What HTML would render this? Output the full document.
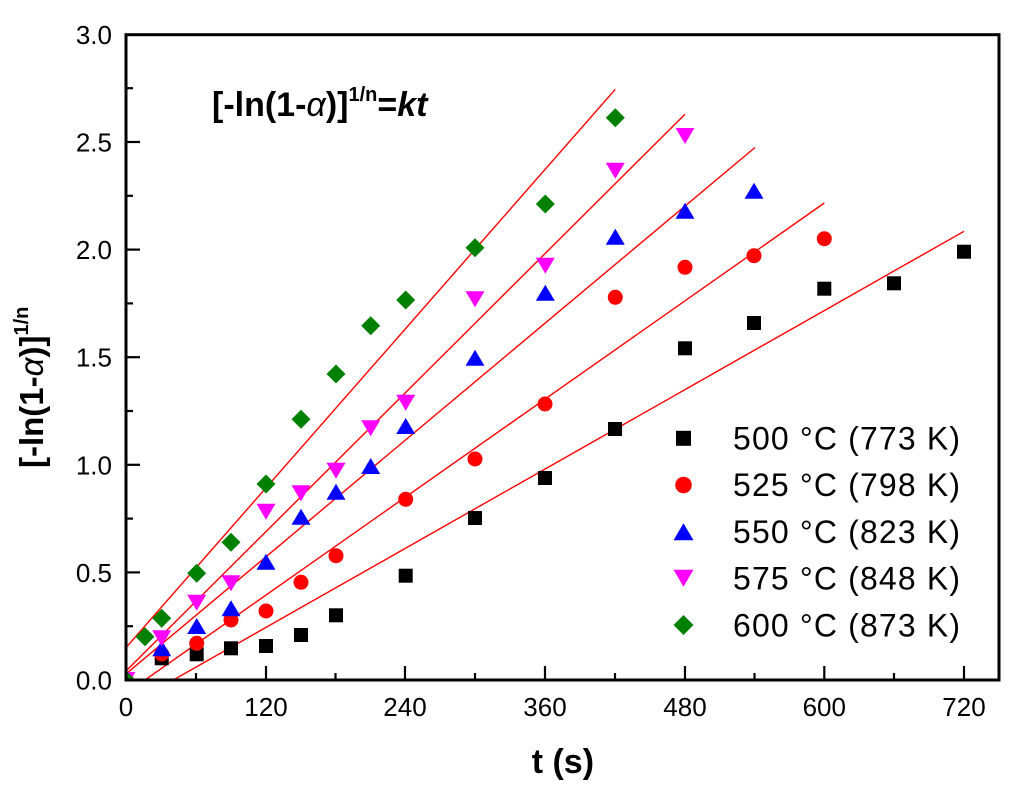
<!DOCTYPE html>
<html>
<head>
<meta charset="utf-8">
<style>
  html, body { margin: 0; padding: 0; background: #fff; }
  svg { display: block; }
  text { font-family: "Liberation Sans", Arial, sans-serif; }
</style>
</head>
<body>
<svg width="1021" height="803" viewBox="0 0 1021 803" xmlns="http://www.w3.org/2000/svg">
  <defs>
    <clipPath id="plot">
      <rect x="126" y="34.7" width="873" height="645.3"/>
    </clipPath>
  </defs>
  <rect width="1021" height="803" fill="#fff"/>

  <!-- fit lines -->
  <g clip-path="url(#plot)" stroke="#ff0000" stroke-width="1.4" fill="none">
    <line x1="126" y1="647.6" x2="615.3" y2="89.3"/>
    <line x1="126" y1="671" x2="685" y2="114.2"/>
    <line x1="126" y1="673.9" x2="755" y2="147.5"/>
    <line x1="145" y1="680" x2="824.3" y2="203"/>
    <line x1="173.3" y1="680" x2="964" y2="231.3"/>
  </g>

  <!-- markers -->
  <g clip-path="url(#plot)">
    <g fill="#000">
      <rect x="119" y="673" width="14" height="14"/>
      <rect x="154.7" y="651.3" width="14" height="14"/>
      <rect x="189.7" y="647.3" width="14" height="14"/>
      <rect x="224" y="641.3" width="14" height="14"/>
      <rect x="259" y="639" width="14" height="14"/>
      <rect x="294" y="628" width="14" height="14"/>
      <rect x="329" y="608.3" width="14" height="14"/>
      <rect x="398.7" y="568.7" width="14" height="14"/>
      <rect x="468" y="511" width="14" height="14"/>
      <rect x="538" y="471" width="14" height="14"/>
      <rect x="608" y="422" width="14" height="14"/>
      <rect x="678" y="341.3" width="14" height="14"/>
      <rect x="747" y="316" width="14" height="14"/>
      <rect x="817.3" y="281.7" width="14" height="14"/>
      <rect x="887" y="276.3" width="14" height="14"/>
      <rect x="957" y="244.7" width="14" height="14"/>
    </g>
    <g fill="#ff0000">
      <circle cx="126" cy="680" r="7.5"/>
      <circle cx="161.7" cy="654" r="7.5"/>
      <circle cx="196.7" cy="643.3" r="7.5"/>
      <circle cx="231" cy="620" r="7.5"/>
      <circle cx="266" cy="611" r="7.5"/>
      <circle cx="301" cy="582.3" r="7.5"/>
      <circle cx="336" cy="555.7" r="7.5"/>
      <circle cx="405.7" cy="499.3" r="7.5"/>
      <circle cx="475" cy="459" r="7.5"/>
      <circle cx="545" cy="404" r="7.5"/>
      <circle cx="615.3" cy="297.3" r="7.5"/>
      <circle cx="685" cy="267.3" r="7.5"/>
      <circle cx="754" cy="255.7" r="7.5"/>
      <circle cx="824.3" cy="238.7" r="7.5"/>
    </g>
    <g fill="#0000ff">
      <polygon points="126,672 116.5,688 135.5,688"/>
      <polygon points="161.7,640.3 152.2,656.3 171.2,656.3"/>
      <polygon points="196.7,618 187.2,634 206.2,634"/>
      <polygon points="231,600.3 221.5,616.3 240.5,616.3"/>
      <polygon points="266,553.7 256.5,569.7 275.5,569.7"/>
      <polygon points="301,508.7 291.5,524.7 310.5,524.7"/>
      <polygon points="336,483.7 326.5,499.7 345.5,499.7"/>
      <polygon points="370.7,458 361.2,474 380.2,474"/>
      <polygon points="405.7,418 396.2,434 415.2,434"/>
      <polygon points="475,349.7 465.5,365.7 484.5,365.7"/>
      <polygon points="545.3,284.7 535.8,300.7 554.8,300.7"/>
      <polygon points="615.3,228.7 605.8,244.7 624.8,244.7"/>
      <polygon points="685,202.7 675.5,218.7 694.5,218.7"/>
      <polygon points="754,182.7 744.5,198.7 763.5,198.7"/>
    </g>
    <g fill="#ff00ff">
      <polygon points="116.5,672 135.5,672 126,688"/>
      <polygon points="152.2,630.3 171.2,630.3 161.7,646.3"/>
      <polygon points="187.2,594.7 206.2,594.7 196.7,610.7"/>
      <polygon points="221.5,575.3 240.5,575.3 231,591.3"/>
      <polygon points="256.5,503.7 275.5,503.7 266,519.7"/>
      <polygon points="291.5,485.3 310.5,485.3 301,501.3"/>
      <polygon points="326.5,462.7 345.5,462.7 336,478.7"/>
      <polygon points="361.2,420.3 380.2,420.3 370.7,436.3"/>
      <polygon points="396.2,394.7 415.2,394.7 405.7,410.7"/>
      <polygon points="465.5,291.3 484.5,291.3 475,307.3"/>
      <polygon points="535.8,257.7 554.8,257.7 545.3,273.7"/>
      <polygon points="605.8,162.7 624.8,162.7 615.3,178.7"/>
      <polygon points="675.5,128 694.5,128 685,144"/>
    </g>
    <g fill="#008000">
      <polygon points="126,670.5 135.5,680 126,689.5 116.5,680"/>
      <polygon points="145,627.2 154.5,636.7 145,646.2 135.5,636.7"/>
      <polygon points="161.7,608.8 171.2,618.3 161.7,627.8 152.2,618.3"/>
      <polygon points="196.7,563.8 206.2,573.3 196.7,582.8 187.2,573.3"/>
      <polygon points="231,532.8 240.5,542.3 231,551.8 221.5,542.3"/>
      <polygon points="266,474.5 275.5,484 266,493.5 256.5,484"/>
      <polygon points="301,409.8 310.5,419.3 301,428.8 291.5,419.3"/>
      <polygon points="336,364.5 345.5,374 336,383.5 326.5,374"/>
      <polygon points="370.7,316.2 380.2,325.7 370.7,335.2 361.2,325.7"/>
      <polygon points="405.7,290.5 415.2,300 405.7,309.5 396.2,300"/>
      <polygon points="475,238.2 484.5,247.7 475,257.2 465.5,247.7"/>
      <polygon points="545.3,194.5 554.8,204 545.3,213.5 535.8,204"/>
      <polygon points="615.3,108.2 624.8,117.7 615.3,127.2 605.8,117.7"/>
    </g>
  </g>

  <!-- axes frame -->
  <rect x="126" y="34.7" width="873" height="645.3" fill="none" stroke="#000" stroke-width="3"/>

  <!-- x ticks -->
  <g stroke="#000" stroke-width="2.2">
    <line x1="196" y1="680" x2="196" y2="673"/>
    <line x1="266" y1="680" x2="266" y2="666"/>
    <line x1="335.5" y1="680" x2="335.5" y2="673"/>
    <line x1="405" y1="680" x2="405" y2="666"/>
    <line x1="475" y1="680" x2="475" y2="673"/>
    <line x1="545" y1="680" x2="545" y2="666"/>
    <line x1="615" y1="680" x2="615" y2="673"/>
    <line x1="685" y1="680" x2="685" y2="666"/>
    <line x1="754.5" y1="680" x2="754.5" y2="673"/>
    <line x1="824.3" y1="680" x2="824.3" y2="666"/>
    <line x1="894" y1="680" x2="894" y2="673"/>
    <line x1="964" y1="680" x2="964" y2="666"/>
  </g>
  <!-- y ticks -->
  <g stroke="#000" stroke-width="2.2">
    <line x1="126" y1="626.2" x2="133" y2="626.2"/>
    <line x1="126" y1="572.4" x2="140" y2="572.4"/>
    <line x1="126" y1="518.6" x2="133" y2="518.6"/>
    <line x1="126" y1="464.8" x2="140" y2="464.8"/>
    <line x1="126" y1="411" x2="133" y2="411"/>
    <line x1="126" y1="357.2" x2="140" y2="357.2"/>
    <line x1="126" y1="303.4" x2="133" y2="303.4"/>
    <line x1="126" y1="249.6" x2="140" y2="249.6"/>
    <line x1="126" y1="195.8" x2="133" y2="195.8"/>
    <line x1="126" y1="142" x2="140" y2="142"/>
    <line x1="126" y1="88.2" x2="133" y2="88.2"/>
  </g>

  <!-- x tick labels -->
  <g font-size="26" text-anchor="middle" fill="#000">
    <text x="126" y="716">0</text>
    <text x="266" y="716">120</text>
    <text x="405" y="716">240</text>
    <text x="545" y="716">360</text>
    <text x="685" y="716">480</text>
    <text x="824.3" y="716">600</text>
    <text x="964" y="716">720</text>
  </g>
  <!-- y tick labels -->
  <g font-size="26" text-anchor="end" fill="#000">
    <text x="112" y="689.5">0.0</text>
    <text x="112" y="581.9">0.5</text>
    <text x="112" y="474.3">1.0</text>
    <text x="112" y="366.7">1.5</text>
    <text x="112" y="259.1">2.0</text>
    <text x="112" y="151.5">2.5</text>
    <text x="112" y="43.9">3.0</text>
  </g>

  <!-- axis titles -->
  <text x="531.7" y="773" font-size="34" font-weight="bold" fill="#000">t (s)</text>
  <text transform="translate(43,468) rotate(-90)" font-size="33" font-weight="bold" fill="#000">[-ln(1-<tspan font-style="italic" font-weight="normal">α</tspan>)]<tspan font-size="20" dy="-15">1/n</tspan></text>

  <!-- in-plot equation -->
  <text x="212" y="116" font-size="34" font-weight="bold" fill="#000">[-ln(1-<tspan font-style="italic" font-weight="normal">α</tspan>)]<tspan font-size="20" dy="-15">1/n</tspan><tspan dy="15">=</tspan><tspan font-style="italic">kt</tspan></text>

  <!-- legend -->
  <rect x="676" y="430.8" width="15" height="15" fill="#000"/>
  <circle cx="683.5" cy="485" r="8.3" fill="#ff0000"/>
  <polygon points="683.5,523.2 673.5,540.2 693.5,540.2" fill="#0000ff"/>
  <polygon points="673.5,569.8 693.5,569.8 683.5,586.8" fill="#ff00ff"/>
  <polygon points="683.5,615 693.5,625 683.5,635 673.5,625" fill="#008000"/>
  <g font-size="32" fill="#000">
    <text x="733" y="449.5" textLength="227" lengthAdjust="spacing">500 °C (773 K)</text>
    <text x="733" y="496.2" textLength="227" lengthAdjust="spacing">525 °C (798 K)</text>
    <text x="733" y="542.9" textLength="227" lengthAdjust="spacing">550 °C (823 K)</text>
    <text x="733" y="589.6" textLength="227" lengthAdjust="spacing">575 °C (848 K)</text>
    <text x="733" y="636.3" textLength="227" lengthAdjust="spacing">600 °C (873 K)</text>
  </g>
</svg>
</body>
</html>
